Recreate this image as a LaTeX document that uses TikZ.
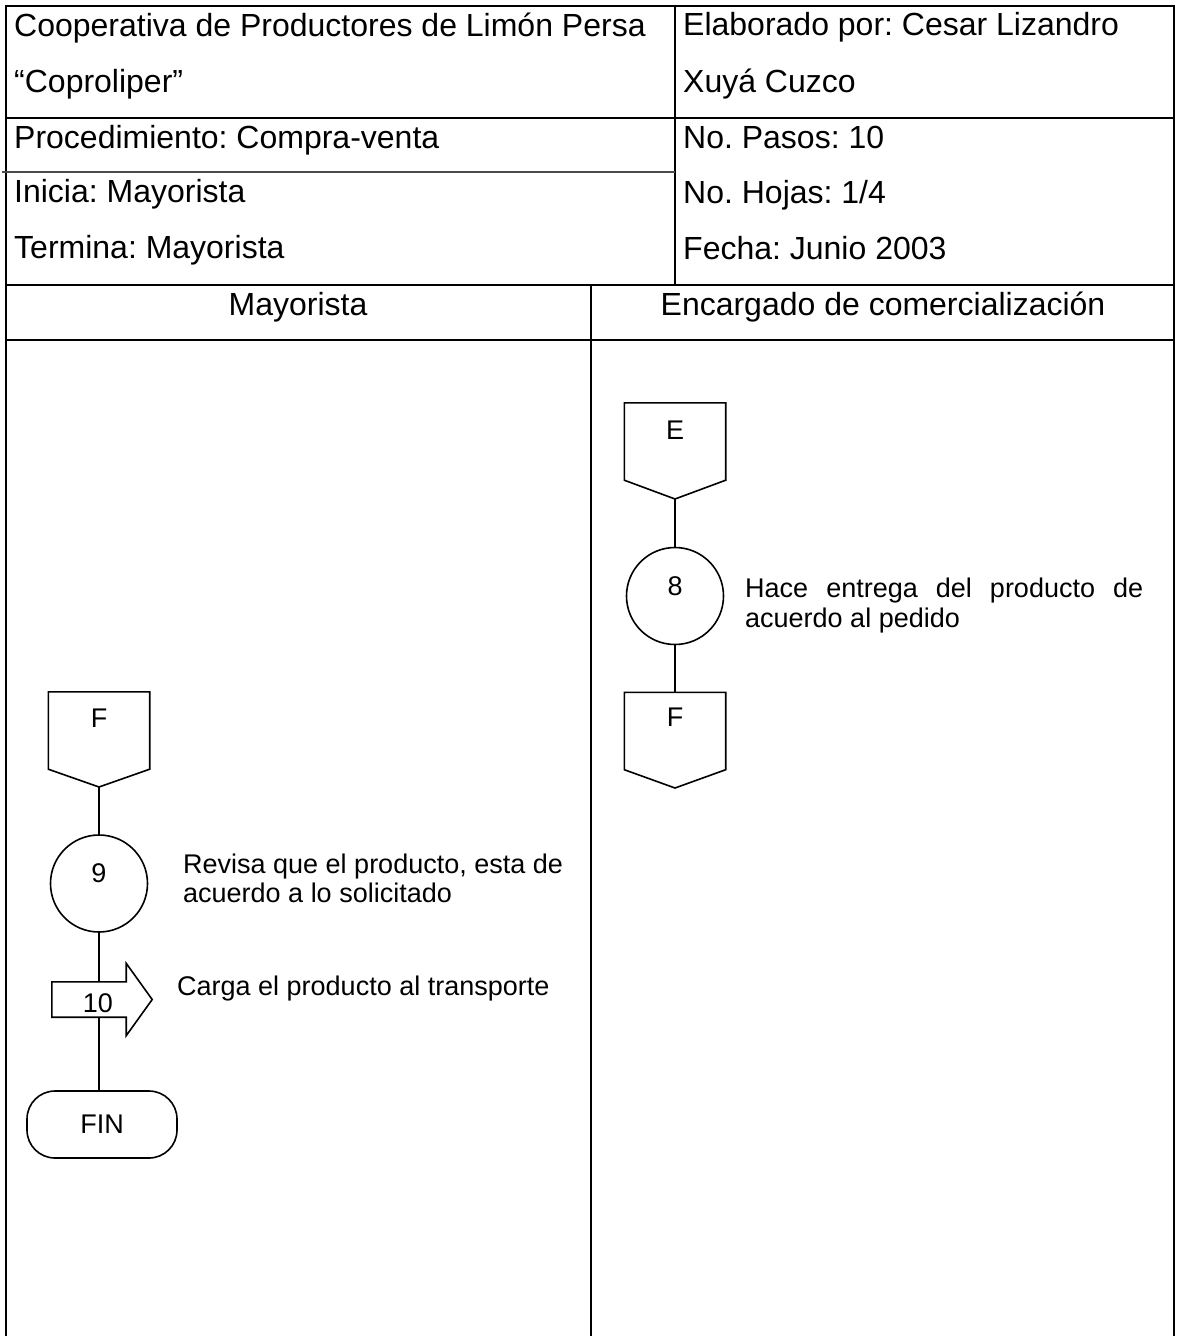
\documentclass[tikz,border=0pt]{standalone}
\usepackage{fontspec}
\setmainfont{Liberation Sans}
\usetikzlibrary{calc}
\frenchspacing
\begin{document}
\frenchspacing
\begin{tikzpicture}[x=1pt,y=-1pt,
  tline/.style={line width=2pt},
  gline/.style={line width=1.5pt, draw=black!70},
  sline/.style={line width=1.6pt},
  hdr/.style={anchor=base west, inner sep=0pt, font=\fontsize{32}{38}\selectfont},
  lanehdr/.style={anchor=base, inner sep=0pt, font=\fontsize{32}{38}\selectfont},
  desc/.style={anchor=base west, inner sep=0pt, font=\fontsize{27}{30}\selectfont},
  lbl/.style={inner sep=0pt, font=\fontsize{27}{30}\selectfont},
  obox/.style={draw=none, inner sep=0pt, minimum width=101pt, minimum height=77pt},
  stepcirc/.style={circle, draw, sline, inner sep=0pt, minimum size=97pt},
  abody/.style={draw=none, inner sep=0pt, minimum width=74pt, minimum height=35pt},
  termbox/.style={draw, sline, rounded corners=28pt, inner sep=0pt, minimum width=150pt, minimum height=67pt, font=\fontsize{27}{30}\selectfont}
]
\useasboundingbox (0,0) rectangle (1178,1336);

% ---- table frame ----
\draw[tline] (6,1336) -- (6,6) -- (1174,6) -- (1174,1336);
\draw[tline] (6,118) -- (1174,118);
\draw[tline] (6,285) -- (1174,285);
\draw[tline] (6,340) -- (1174,340);
\draw[tline] (675,6) -- (675,285);
\draw[tline] (591,285) -- (591,1336);
\draw[gline] (2,172) -- (675,172);

% ---- header texts ----
\node[hdr] (h1) at (14,36) {Cooperativa de Productores de Limón Persa};
\node[hdr] (h2) at (14,92) {“Coproliper”};
\node[hdr] (h3) at (14,148) {Procedimiento: Compra-venta};
\node[hdr] (h4) at (14,202) {Inicia: Mayorista};
\node[hdr] (h5) at (14,258) {Termina: Mayorista};
\node[hdr] (r1) at (683,35) {Elaborado por: Cesar Lizandro};
\node[hdr] (r2) at (683,92) {Xuyá Cuzco};
\node[hdr] (r3) at (683,148) {No. Pasos: 10};
\node[hdr] (r4) at (683,203) {No. Hojas: 1/4};
\node[hdr] (r5) at (683,259) {Fecha: Junio 2003};
\node[lanehdr] (lane1) at (298,315) {Mayorista};
\node[lanehdr] (lane2) at (883,315) {Encargado de comercialización};

% ---- right lane ----
\node[obox] (E) at (675,441.5) {};
\coordinate (Etip) at (675,499);
\draw[sline, line join=miter] (E.north west) -- (E.north east) -- (E.south east) -- (Etip) -- (E.south west) -- cycle;
\node[lbl] (Elbl) at (675,430) {E};

\node[stepcirc] (c8) at (675,596) {};
\node[lbl] (n8) at (675,586) {8};

\node[obox] (Fr) at (675,731) {};
\coordinate (Frtip) at (675,788);
\draw[sline, line join=miter] (Fr.north west) -- (Fr.north east) -- (Fr.south east) -- (Frtip) -- (Fr.south west) -- cycle;
\node[lbl] (Frlbl) at (675,717.5) {F};

\draw[sline] (Etip) -- (c8.north);
\draw[sline] (c8.south) -- (Fr.north);

\node[desc] (d8a) at (745,597) {\makebox[398pt][s]{Hace entrega del producto de}};
\node[desc] (d8b) at (745,627) {acuerdo al pedido};

% ---- left lane ----
\node[obox] (Fl) at (99,730.5) {};
\coordinate (Fltip) at (99,787);
\draw[sline, line join=miter] (Fl.north west) -- (Fl.north east) -- (Fl.south east) -- (Fltip) -- (Fl.south west) -- cycle;
\node[lbl] (Fllbl) at (99,718) {F};

\node[stepcirc] (c9) at (99,883.5) {};
\node[lbl] (n9) at (99,873) {9};

\node[termbox] (fin) at (102,1124.5) {FIN};

\draw[sline] (Fltip) -- (c9.north);
\draw[sline] (c9.south) -- (c9.south |- fin.north);

\node[abody] (a10) at (89,999.5) {};
\draw[sline, fill=white, line join=miter] (a10.north west) -- (a10.north east)
  -- ($(a10.north east)+(0,-18.5)$) -- ($(a10.east)+(26,0)$)
  -- ($(a10.south east)+(0,18.5)$) -- (a10.south east) -- (a10.south west) -- cycle;
\node[lbl] (n10) at (98,1003.5) {10};

\node[desc] (d9a) at (183,873) {Revisa que el producto, esta de};
\node[desc] (d9b) at (183,902) {acuerdo a lo solicitado};
\node[desc] (d10) at (177,995) {Carga el producto al transporte};
\end{tikzpicture}
\end{document}
